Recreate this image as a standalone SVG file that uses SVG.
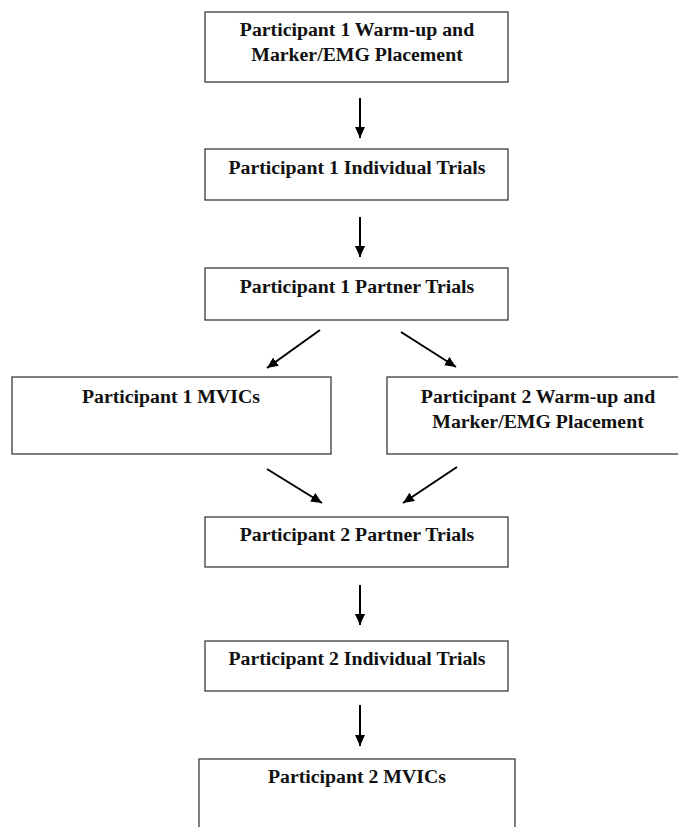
<svg xmlns="http://www.w3.org/2000/svg" width="678" height="827" viewBox="0 0 678 827">
<style>
.box{fill:#fff;stroke:#3a3a3a;stroke-width:1.3}
.t{font-family:"Liberation Serif","Times New Roman",serif;font-weight:bold;font-size:19.8px;fill:#111;text-anchor:middle}
.c{stroke:#000;stroke-width:2;fill:none;marker-end:url(#ah)}
</style>
<defs>
<marker id="ah" markerUnits="userSpaceOnUse" markerWidth="12" markerHeight="10" refX="11" refY="5" orient="auto">
<path d="M0,0 L11,5 L0,10 z" fill="#000"/>
</marker>
</defs>
<rect width="678" height="827" fill="#fff"/>
<g id="n1"><rect class="box" x="205" y="12" width="303" height="70"/><text class="t" x="357" y="36">Participant 1 Warm-up and</text><text class="t" x="357" y="61">Marker/EMG Placement</text></g>
<g id="n2"><rect class="box" x="205" y="149" width="303" height="51"/><text class="t" x="357" y="174">Participant 1 Individual Trials</text></g>
<g id="n3"><rect class="box" x="205" y="268" width="303" height="52"/><text class="t" x="357" y="293">Participant 1 Partner Trials</text></g>
<g id="n4"><rect class="box" x="12" y="377" width="319" height="77"/><text class="t" x="171" y="403">Participant 1 MVICs</text></g>
<g id="n5"><rect class="box" x="387" y="377" width="302" height="77"/><text class="t" x="538" y="403">Participant 2 Warm-up and</text><text class="t" x="538" y="428">Marker/EMG Placement</text></g>
<g id="n6"><rect class="box" x="205" y="517" width="303" height="50"/><text class="t" x="357" y="541">Participant 2 Partner Trials</text></g>
<g id="n7"><rect class="box" x="205" y="641" width="303" height="50"/><text class="t" x="357" y="665">Participant 2 Individual Trials</text></g>
<g id="n8"><rect class="box" x="199" y="759" width="316" height="90"/><text class="t" x="357" y="783">Participant 2 MVICs</text></g>
<g id="connectors">
<line class="c" x1="360" y1="98" x2="360" y2="138"/>
<line class="c" x1="360" y1="217" x2="360" y2="257"/>
<line class="c" x1="320" y1="330" x2="267" y2="368"/>
<line class="c" x1="401" y1="332" x2="456" y2="367"/>
<line class="c" x1="267" y1="469" x2="322" y2="503"/>
<line class="c" x1="457" y1="467" x2="403" y2="503"/>
<line class="c" x1="360" y1="585" x2="360" y2="625"/>
<line class="c" x1="360" y1="705" x2="360" y2="746"/>
</g>
</svg>
